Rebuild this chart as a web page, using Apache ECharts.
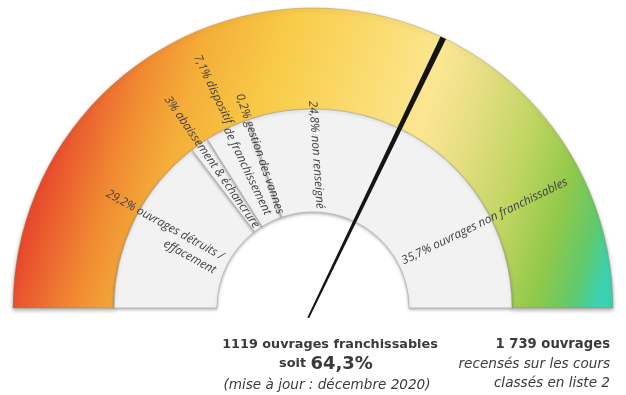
<!DOCTYPE html>
<html><head><meta charset="utf-8">
<script src="https://cdn.jsdelivr.net/npm/echarts@6/dist/echarts.min.js"></script>
<style>html,body{margin:0;padding:0;background:#fff}#chart{width:626px;height:395px}</style>
</head><body><div id="chart"></div>
<script>
// ---- data ----
const categories = ['ouvrages détruits / effacement', 'abaissement & échancrure', 'dispositif de franchissement', 'gestion des vannes', 'non renseigné', 'ouvrages non franchissables'];
const shares = [29.2, 3, 7.1, 0.2, 24.8, 35.7];
const franchissablesCount = 1119;
const franchissablesShare = 64.3;
const totalCount = 1739;
const updateNote = '(mise à jour : décembre 2020)';
const totalNote = ['recensés sur les cours', 'classés en liste 2'];

function pct(v) { return String(v).replace('.', ',') + '%'; }
function spaced(n) { return String(n).replace(/\B(?=(\d{3})+(?!\d))/g, ' '); }

const CX = 313, CY = 308;
const labelFont = { fontFamily: 'Open Sans', fontStyle: 'italic', fontSize: 11.8, color: '#404040' };

// per-slice label text builders
function labelText(i) {
  const p = pct(shares[i]);
  const c = categories[i];
  if (i === 0) {
    const parts = c.split(' / ');
    return '{r|' + p + ' ' + parts[0] + ' /}\n{r|' + parts[1] + '}';
  }
  if (i === 2) {
    const w = c.split(' ');
    return '{u|' + p + ' ' + w[0] + ' }{t|' + w.slice(1).join(' ') + '}';
  }
  return '{t|' + p + ' ' + c + '}';
}
// per-slice label placement (style only)
const labelPlace = [
  { rotate: -29, padding: [0, 39, 0, 0] },
  { rotate: 'radial', padding: [0, 54, 0, 0] },
  { rotate: 'radial', padding: [0, 81, 0, 0] },
  { rotate: 'radial', padding: [0, 25, 0, 0] },
  { rotate: -86, padding: [11, 7, 0, 0] },
  { rotate: 26, padding: [27, 0, 0, 85] }
];

const ringData = shares.map((v, i) => ({
  name: categories[i],
  value: v,
  label: Object.assign({ show: true, position: 'inside', formatter: labelText(i) }, labelPlace[i])
}));
ringData[3].itemStyle = { borderWidth: 0 };
ringData.push({
  name: '', value: shares.reduce((a, b) => a + b, 0),
  itemStyle: { color: 'rgba(0,0,0,0)', borderWidth: 0, shadowBlur: 0, shadowColor: 'rgba(0,0,0,0)' },
  label: { show: false }
});

const bandGradient = new echarts.graphic.LinearGradient(0, 0.2, 1, 0.8, [
  { offset: 0, color: '#e4382a' },
  { offset: 0.1, color: '#e84c2d' },
  { offset: 0.2, color: '#f08a32' },
  { offset: 0.28, color: '#f4ae39' },
  { offset: 0.4, color: '#f8cb47' },
  { offset: 0.55, color: '#fbdc72' },
  { offset: 0.65, color: '#fce692' },
  { offset: 0.72, color: '#e7df84' },
  { offset: 0.82, color: '#c0d562' },
  { offset: 0.9, color: '#92c94a' },
  { offset: 0.96, color: '#62c96a' },
  { offset: 1, color: '#3bd1b2' }
]);

const chart = echarts.init(document.getElementById('chart'), null, { renderer: 'canvas' });
chart.setOption({
  animation: false,
  backgroundColor: '#ffffff',
  series: [
    {
      type: 'pie', z: 1, center: [CX, CY], radius: [199, 300], startAngle: 180, clockwise: true,
      silent: true, label: { show: false }, labelLine: { show: false },
      data: [
        { value: 1, itemStyle: { color: bandGradient, borderColor: 'rgba(150,130,80,0.6)', borderWidth: 0.6, shadowBlur: 4, shadowOffsetY: 2, shadowColor: 'rgba(0,0,0,0.35)' } },
        { value: 1, itemStyle: { color: 'rgba(0,0,0,0)', borderWidth: 0 } }
      ]
    },
    {
      type: 'pie', z: 2, center: [CX, CY], radius: [96, 199], startAngle: 180, clockwise: true,
      silent: true, minShowLabelAngle: 0, avoidLabelOverlap: false,
      labelLayout: { hideOverlap: false, moveOverlap: null },
      itemStyle: { color: '#f2f2f2', borderColor: '#ababab', borderWidth: 0.7, shadowBlur: 3, shadowOffsetY: 1.5, shadowColor: 'rgba(0,0,0,0.25)' },
      label: Object.assign({
        rich: {
          r: Object.assign({ align: 'right', lineHeight: 16 }, labelFont),
          t: Object.assign({}, labelFont),
          u: Object.assign({ padding: [0, 0, 9, 0] }, labelFont)
        }
      }, labelFont),
      labelLine: { show: false },
      data: ringData
    },
    {
      type: 'gauge', z: 10, center: [CX, CY], radius: 300, startAngle: 180, endAngle: 0, min: 0, max: 100,
      silent: true,
      axisLine: { show: false }, axisTick: { show: false }, splitLine: { show: false }, axisLabel: { show: false },
      pointer: { icon: 'path://M0,0L10,0L6.6,100L3.4,100Z', length: 311, width: 6, offsetCenter: [0, 11], itemStyle: { color: '#141414' } },
      anchor: { show: false }, title: { show: false }, detail: { show: false },
      data: [{ value: franchissablesShare }]
    }
  ],
  graphic: [
    { type: 'text', x: 330, y: 345, style: { text: franchissablesCount + ' ouvrages franchissables', font: 'bold 12.8px "DejaVu Sans"', fill: '#3a3a3a', align: 'center', verticalAlign: 'middle' } },
    { type: 'text', x: 326, y: 364, style: { text: '{a|soit }{b|' + pct(franchissablesShare) + '}', align: 'center', verticalAlign: 'middle',
        rich: { a: { font: 'bold 12.8px "DejaVu Sans"', fill: '#3a3a3a' }, b: { font: 'bold 18px "DejaVu Sans"', fill: '#3a3a3a' } } } },
    { type: 'text', x: 327, y: 385, style: { text: updateNote, font: 'italic 13.6px "DejaVu Sans"', fill: '#3a3a3a', align: 'center', verticalAlign: 'middle' } },
    { type: 'text', x: 610, y: 345, style: { text: spaced(totalCount) + ' ouvrages', font: 'bold 13.2px "DejaVu Sans"', fill: '#3a3a3a', align: 'right', verticalAlign: 'middle' } },
    { type: 'text', x: 610, y: 364, style: { text: totalNote[0], font: 'italic 13.6px "DejaVu Sans"', fill: '#3a3a3a', align: 'right', verticalAlign: 'middle' } },
    { type: 'text', x: 610, y: 383, style: { text: totalNote[1], font: 'italic 13.6px "DejaVu Sans"', fill: '#3a3a3a', align: 'right', verticalAlign: 'middle' } }
  ]
});
</script></body></html>
